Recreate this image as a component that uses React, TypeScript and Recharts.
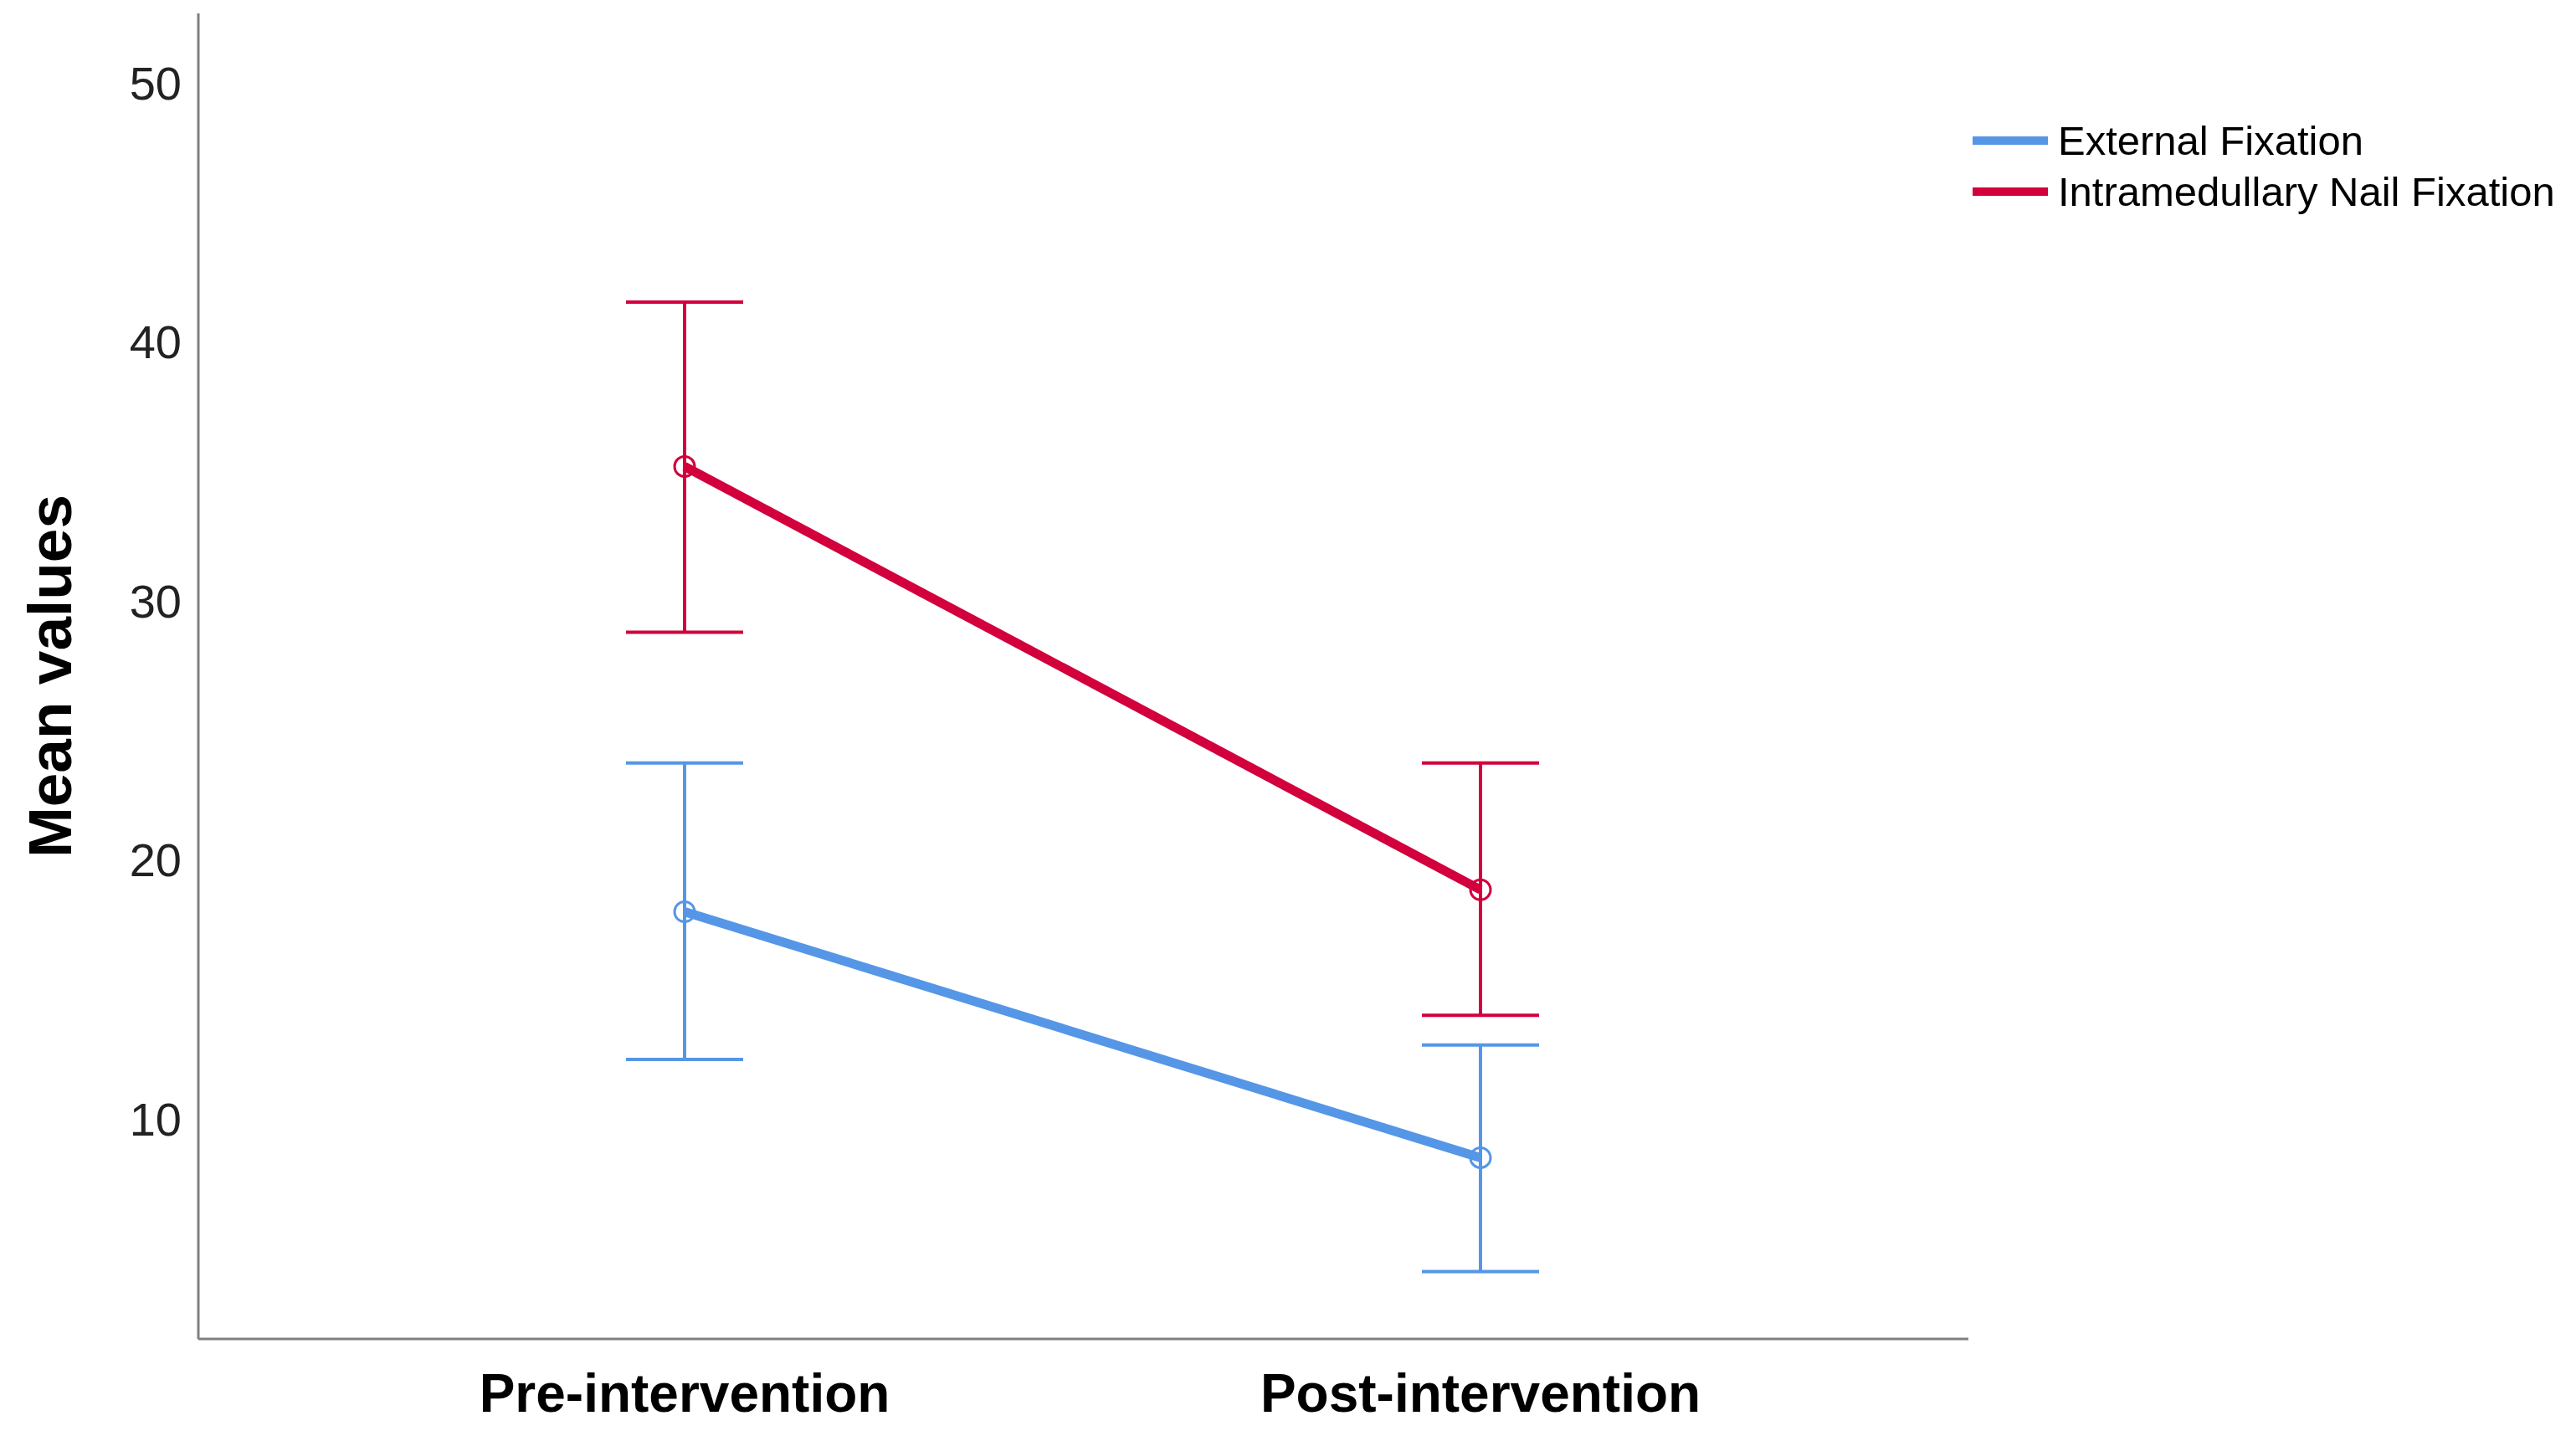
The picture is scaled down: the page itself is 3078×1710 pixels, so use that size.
import React from "react"
import { LineChart, Line, XAxis, YAxis, ErrorBar } from "recharts"

document.body.style.margin = "0"

const categories = ["Pre-intervention", "Post-intervention"]

const externalMean = [18.0, 8.5]
const externalLow = [12.3, 4.1]
const externalHigh = [23.75, 12.85]

const nailMean = [35.2, 18.85]
const nailLow = [28.8, 14.0]
const nailHigh = [41.55, 23.75]

const yTicks = [10, 20, 30, 40, 50]

const BLUE = "#5596e6"
const RED = "#d2003c"
const FONT = "'Liberation Sans', Arial, sans-serif"

const data = categories.map((name, i) => ({
  name,
  external: externalMean[i],
  externalErr: [externalMean[i] - externalLow[i], externalHigh[i] - externalMean[i]],
  nail: nailMean[i],
  nailErr: [nailMean[i] - nailLow[i], nailHigh[i] - nailMean[i]],
}))

const legendItems = [
  { label: "External Fixation", color: BLUE },
  { label: "Intramedullary Nail Fixation", color: RED },
]

const XTick = ({ x, y, payload }: any) => (
  <text
    x={x}
    y={y + 65}
    textAnchor="middle"
    dominantBaseline="central"
    fontFamily={FONT}
    fontWeight="bold"
    fontSize={64}
    fill="#000"
  >
    {payload.value}
  </text>
)

const YTick = ({ x, y, payload }: any) => (
  <text x={x - 20} y={y} textAnchor="end" dominantBaseline="central" fontFamily={FONT} fontSize={56} fill="#222">
    {payload.value}
  </text>
)

const YLabel = ({ viewBox }: any) => {
  const cx = viewBox.x + 59
  const cy = viewBox.y + viewBox.height / 2
  return (
    <text
      x={cx}
      y={cy}
      transform={`rotate(-90, ${cx}, ${cy})`}
      textAnchor="middle"
      dominantBaseline="central"
      fontFamily={FONT}
      fontWeight="bold"
      fontSize={73}
      fill="#000"
    >
      Mean values
    </text>
  )
}

export default function App() {
  return (
    <div style={{ position: "relative", width: 3078, height: 1710, background: "#fff" }}>
      <LineChart width={3078} height={1710} data={data} margin={{ top: 16, right: 726, bottom: 0, left: 0 }}>
        <XAxis
          dataKey="name"
          type="category"
          scale="point"
          padding={{ left: 581, right: 583 }}
          height={110}
          tickSize={0}
          tickMargin={0}
          tick={<XTick />}
          axisLine={{ stroke: "#808080", strokeWidth: 3 }}
          tickLine={false}
        />
        <YAxis
          type="number"
          domain={[1.5, 52.7]}
          ticks={yTicks}
          width={237}
          tickSize={0}
          tickMargin={0}
          tick={<YTick />}
          axisLine={{ stroke: "#808080", strokeWidth: 3 }}
          tickLine={false}
          label={<YLabel />}
          allowDataOverflow
        />
        <Line
          dataKey="external"
          stroke={BLUE}
          strokeWidth={11}
          dot={{ r: 12, strokeWidth: 3, fill: "none", stroke: BLUE }}
          activeDot={false}
          isAnimationActive={false}
        >
          <ErrorBar dataKey="externalErr" direction="y" width={70} stroke={BLUE} strokeWidth={4} isAnimationActive={false} />
        </Line>
        <Line
          dataKey="nail"
          stroke={RED}
          strokeWidth={11}
          dot={{ r: 12, strokeWidth: 3, fill: "none", stroke: RED }}
          activeDot={false}
          isAnimationActive={false}
        >
          <ErrorBar dataKey="nailErr" direction="y" width={70} stroke={RED} strokeWidth={4} isAnimationActive={false} />
        </Line>
      </LineChart>
      <div style={{ position: "absolute", left: 2357, top: 137, fontFamily: FONT, fontSize: 49, color: "#000" }}>
        {legendItems.map((item) => (
          <div key={item.label} style={{ display: "flex", alignItems: "center", height: 61 }}>
            <div style={{ width: 90, height: 10, background: item.color, marginRight: 12 }} />
            <span style={{ whiteSpace: "nowrap" }}>{item.label}</span>
          </div>
        ))}
      </div>
    </div>
  )
}
